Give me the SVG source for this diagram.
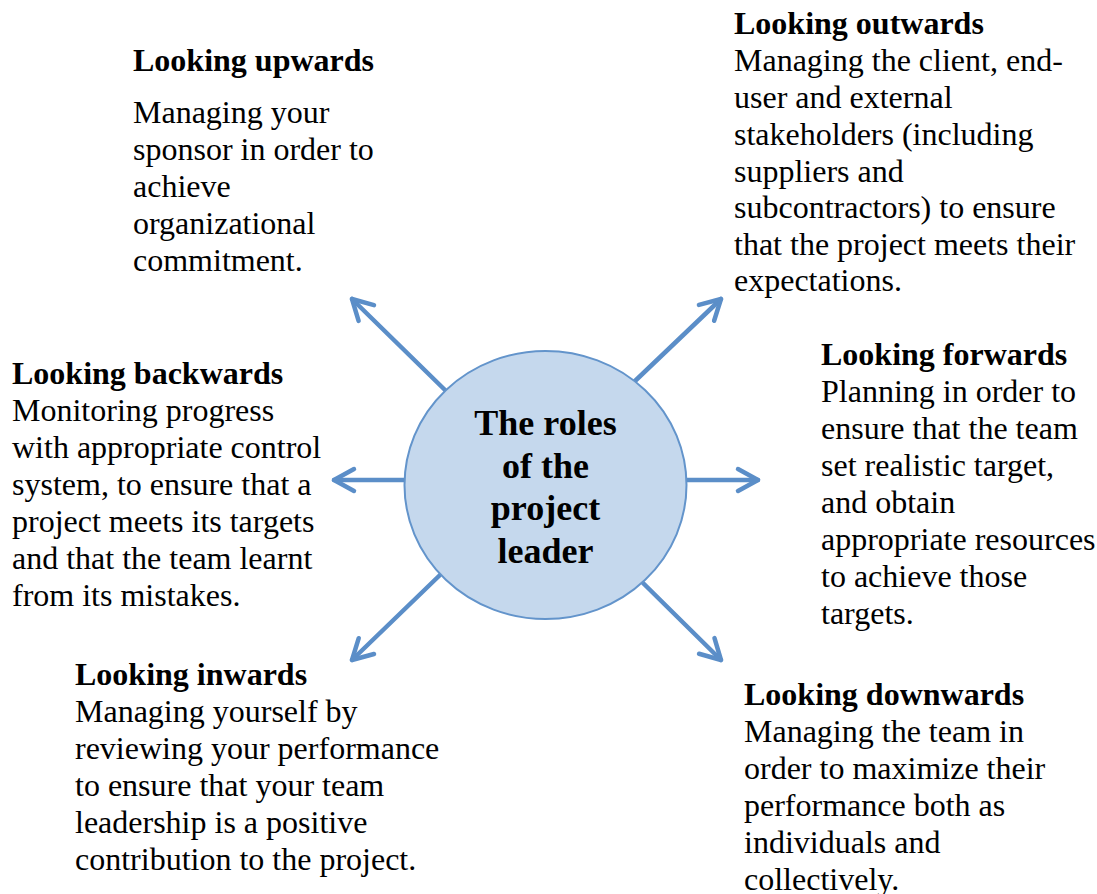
<svg xmlns="http://www.w3.org/2000/svg" width="1097" height="894" viewBox="0 0 1097 894">
<style>
text{font-family:"Liberation Serif","Times New Roman",serif;fill:#000}
.t{font-size:32px;font-weight:bold}
.b{font-size:32px}
.c{font-size:36px;font-weight:bold;text-anchor:middle}
.arr{stroke:#5B8EC8;stroke-width:4.5;fill:none;stroke-linecap:round;marker-end:url(#ah)}
</style>
<defs>
<marker id="ah" markerUnits="userSpaceOnUse" orient="auto" refX="0" refY="0" markerWidth="30" markerHeight="30" overflow="visible">
<path d="M-20,-11 L0,0 L-20,11" fill="none" stroke="#5B8EC8" stroke-width="4.5" stroke-linecap="round" stroke-linejoin="round"/>
</marker>
</defs>
<rect width="1097" height="894" fill="#fff"/>
<g id="connectors">
<line class="arr" x1="445" y1="390" x2="352" y2="299"/>
<line class="arr" x1="635" y1="381" x2="721" y2="299"/>
<line class="arr" x1="405" y1="480" x2="334" y2="480"/>
<line class="arr" x1="686" y1="480" x2="758" y2="480"/>
<line class="arr" x1="440" y1="575" x2="352" y2="660"/>
<line class="arr" x1="643" y1="583" x2="721" y2="660"/>
</g>
<g id="center">
<ellipse cx="545.5" cy="485" rx="141" ry="134" fill="#C5D8ED" stroke="#6394CB" stroke-width="2"/>
<text class="c" x="545.5" y="435">The roles</text>
<text class="c" x="545.5" y="478">of the</text>
<text class="c" x="545.5" y="520">project</text>
<text class="c" x="545.5" y="563">leader</text>
</g>
<g id="upwards">
<text class="t" x="133" y="71">Looking upwards</text>
<text class="b" x="133" y="123">Managing your</text>
<text class="b" x="133" y="160">sponsor in order to</text>
<text class="b" x="133" y="197">achieve</text>
<text class="b" x="133" y="234">organizational</text>
<text class="b" x="133" y="271">commitment.</text>
</g>
<g id="outwards">
<text class="t" x="734" y="34">Looking outwards</text>
<text class="b" x="734" y="71">Managing the client, end-</text>
<text class="b" x="734" y="108">user and external</text>
<text class="b" x="734" y="145">stakeholders (including</text>
<text class="b" x="734" y="182">suppliers and</text>
<text class="b" x="734" y="218">subcontractors) to ensure</text>
<text class="b" x="734" y="255">that the project meets their</text>
<text class="b" x="734" y="291">expectations.</text>
</g>
<g id="backwards">
<text class="t" x="12" y="384">Looking backwards</text>
<text class="b" x="12" y="421">Monitoring progress</text>
<text class="b" x="12" y="458">with appropriate control</text>
<text class="b" x="12" y="495">system, to ensure that a</text>
<text class="b" x="12" y="532">project meets its targets</text>
<text class="b" x="12" y="569">and that the team learnt</text>
<text class="b" x="12" y="606">from its mistakes.</text>
</g>
<g id="forwards">
<text class="t" x="821" y="365">Looking forwards</text>
<text class="b" x="821" y="402">Planning in order to</text>
<text class="b" x="821" y="439">ensure that the team</text>
<text class="b" x="821" y="476">set realistic target,</text>
<text class="b" x="821" y="513">and obtain</text>
<text class="b" x="821" y="550">appropriate resources</text>
<text class="b" x="821" y="587">to achieve those</text>
<text class="b" x="821" y="624">targets.</text>
</g>
<g id="inwards">
<text class="t" x="75" y="685">Looking inwards</text>
<text class="b" x="75" y="722">Managing yourself by</text>
<text class="b" x="75" y="759">reviewing your performance</text>
<text class="b" x="75" y="796">to ensure that your team</text>
<text class="b" x="75" y="833">leadership is a positive</text>
<text class="b" x="75" y="870">contribution to the project.</text>
</g>
<g id="downwards">
<text class="t" x="744" y="705">Looking downwards</text>
<text class="b" x="744" y="742">Managing the team in</text>
<text class="b" x="744" y="779">order to maximize their</text>
<text class="b" x="744" y="816">performance both as</text>
<text class="b" x="744" y="853">individuals and</text>
<text class="b" x="744" y="890">collectively.</text>
</g>
</svg>
